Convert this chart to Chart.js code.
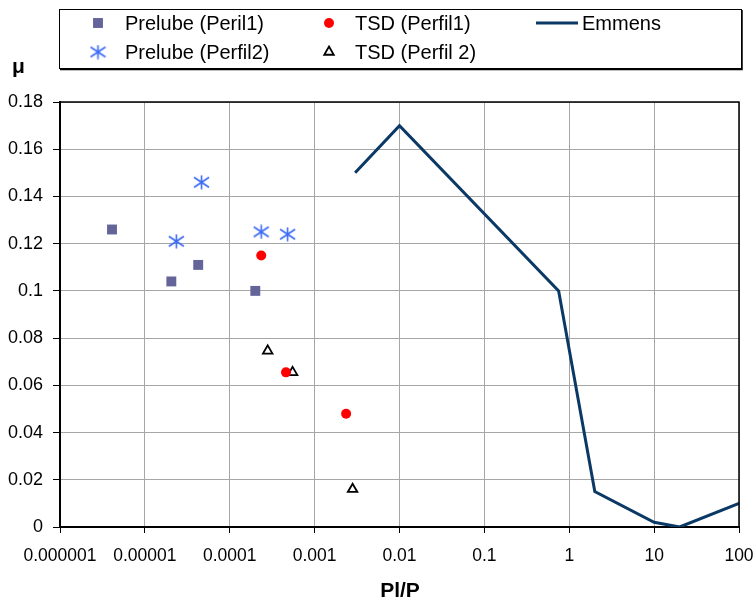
<!DOCTYPE html>
<html>
<head>
<meta charset="utf-8">
<script src="https://cdn.jsdelivr.net/npm/chart.js@4"></script>
<style>
  body { margin: 0; background: #fff; }
  #wrap { width: 756px; height: 600px; }
</style>
</head>
<body>
<div id="wrap"><canvas id="grafico" width="756" height="600"></canvas></div>
<script>
// dados
const prelube1X = [4.1e-6, 2.05e-5, 4.25e-5, 2.0e-4];
const prelube1Y = [0.126, 0.104, 0.111, 0.100];
const prelube2X = [2.35e-5, 4.65e-5, 2.35e-4, 4.8e-4];
const prelube2Y = [0.121, 0.146, 0.125, 0.124];
const tsd1X = [2.35e-4, 4.6e-4, 2.35e-3];
const tsd1Y = [0.115, 0.0655, 0.048];
const tsd2X = [2.8e-4, 5.5e-4, 2.8e-3];
const tsd2Y = [0.0746, 0.0655, 0.016];
const emmensX = [0.003, 0.01, 0.75, 2, 10, 20, 100];
const emmensY = [0.15, 0.17, 0.10, 0.015, 0.002, 0, 0.01];

const xTicks = [1e-6, 1e-5, 1e-4, 1e-3, 1e-2, 1e-1, 1, 10, 100];
const xTickLabels = ['0.000001', '0.00001', '0.0001', '0.001', '0.01', '0.1', '1', '10', '100'];
const yTicks = [0, 0.02, 0.04, 0.06, 0.08, 0.1, 0.12, 0.14, 0.16, 0.18];
const yTickLabels = ['0', '0.02', '0.04', '0.06', '0.08', '0.1', '0.12', '0.14', '0.16', '0.18'];

const fonte = '"Liberation Sans", Arial, sans-serif';

function pares(xs, ys) {
    return xs.map((x, i) => ({ x: x, y: ys[i] }));
}

// marcador asterisco (vertical + X), como no Excel
function criarEstrela() {
    const c = document.createElement('canvas');
    c.width = 17; c.height = 15;
    const g = c.getContext('2d');
    g.strokeStyle = '#3d6af5';
    g.lineWidth = 1.6;
    g.beginPath();
    g.moveTo(8.5, 0.5); g.lineTo(8.5, 14.5);
    g.moveTo(1, 2.5); g.lineTo(16, 12.5);
    g.moveTo(1, 12.5); g.lineTo(16, 2.5);
    g.stroke();
    return c;
}
const estrela = criarEstrela();

const datasets = [
    {
        label: 'Prelube (Peril1)',
        data: pares(prelube1X, prelube1Y),
        pointStyle: 'rect',
        pointRadius: 7,
        backgroundColor: '#64649a',
        borderColor: '#64649a',
        borderWidth: 0
    },
    {
        label: 'Prelube (Perfil2)',
        data: pares(prelube2X, prelube2Y),
        pointStyle: estrela,
        pointRadius: 8
    },
    {
        label: 'TSD (Perfil1)',
        data: pares(tsd1X, tsd1Y),
        pointStyle: 'circle',
        pointRadius: 5,
        backgroundColor: '#ff0000',
        borderColor: '#ff0000',
        borderWidth: 0
    },
    {
        label: 'TSD (Perfil 2)',
        data: pares(tsd2X, tsd2Y),
        pointStyle: 'triangle',
        pointRadius: 5.5,
        backgroundColor: '#ffffff',
        borderColor: '#000000',
        borderWidth: 1.8
    },
    {
        label: 'Emmens',
        data: pares(emmensX, emmensY),
        showLine: true,
        pointRadius: 0,
        borderColor: '#0a3966',
        borderWidth: 3,
        backgroundColor: '#0a3966'
    }
];

// legenda desenhada numa caixa, em duas linhas
const legendaPos = [
    { x: 98, y: 23, tx: 125 },
    { x: 98, y: 52, tx: 125 },
    { x: 329, y: 23, tx: 355 },
    { x: 329, y: 52, tx: 355 },
    { x: 557, y: 23, tx: 582 }
];

const pluginExtras = {
    id: 'extras',
    afterDraw(chart) {
        const ctx = chart.ctx;
        const a = chart.chartArea;
        ctx.save();
        // moldura superior e direita
        ctx.strokeStyle = '#000';
        ctx.lineWidth = 1.5;
        ctx.beginPath();
        ctx.moveTo(a.left, a.top);
        ctx.lineTo(a.right, a.top);
        ctx.lineTo(a.right, a.bottom);
        ctx.stroke();

        // caixa da legenda
        ctx.lineWidth = 1;
        ctx.strokeRect(59.5, 9.5, 682, 59);
        ctx.lineWidth = 1.5;
        ctx.beginPath();
        ctx.moveTo(60, 69.5); ctx.lineTo(742, 69.5); ctx.lineTo(742, 10);
        ctx.stroke();

        ctx.font = '20px ' + fonte;
        ctx.textBaseline = 'middle';
        ctx.textAlign = 'left';
        chart.data.datasets.forEach((ds, i) => {
            const p = legendaPos[i];
            if (ds.showLine) {
                ctx.strokeStyle = ds.borderColor;
                ctx.lineWidth = 3;
                ctx.beginPath();
                ctx.moveTo(536, p.y); ctx.lineTo(578, p.y);
                ctx.stroke();
            } else {
                ctx.fillStyle = ds.backgroundColor || '#000';
                ctx.strokeStyle = ds.borderColor || '#000';
                ctx.lineWidth = ds.borderWidth || 0;
                Chart.helpers.drawPoint(ctx, {
                    pointStyle: ds.pointStyle,
                    radius: ds.pointRadius,
                    rotation: 0,
                    borderWidth: ds.borderWidth || 0
                }, p.x, p.y);
            }
            ctx.fillStyle = '#000';
            ctx.fillText(ds.label, p.tx, p.y + 1);
        });

        // títulos dos eixos
        ctx.font = 'bold 21px ' + fonte;
        ctx.fillText('\u03bc', 12, 67);
        ctx.textAlign = 'center';
        ctx.fillText('Pl/P', 400, 591);
        ctx.restore();
    }
};

new Chart(document.getElementById('grafico'), {
    type: 'scatter',
    data: { datasets: datasets },
    options: {
        responsive: false,
        animation: false,
        layout: { padding: { top: 102, right: 17, left: 0, bottom: 0 } },
        plugins: {
            legend: { display: false },
            tooltip: { enabled: false }
        },
        scales: {
            x: {
                type: 'logarithmic',
                min: 1e-6,
                max: 100,
                afterBuildTicks: scale => {
                    scale.ticks = xTicks.map(v => ({ value: v }));
                },
                afterFit: scale => {
                    scale.height = 73;
                    scale.paddingLeft = 0;
                    scale.paddingRight = 0;
                },
                grid: { color: '#a6a6a6', lineWidth: 1, tickColor: '#000', tickLength: 6 },
                border: { color: '#000', width: 2 },
                ticks: {
                    autoSkip: false,
                    maxRotation: 0,
                    padding: 13,
                    color: '#000',
                    font: { family: fonte, size: 17.5 },
                    callback: (v, i) => xTickLabels[i]
                }
            },
            y: {
                min: 0,
                max: 0.18,
                afterBuildTicks: scale => {
                    scale.ticks = yTicks.map(v => ({ value: v }));
                },
                afterFit: scale => { scale.width = 60; },
                grid: { color: '#a6a6a6', lineWidth: 1, tickColor: '#000', tickLength: 7 },
                border: { color: '#000', width: 2 },
                ticks: {
                    padding: 10,
                    color: '#000',
                    font: { family: fonte, size: 18 },
                    callback: (v, i) => yTickLabels[i]
                }
            }
        }
    },
    plugins: [pluginExtras]
});
</script>
</body>
</html>
